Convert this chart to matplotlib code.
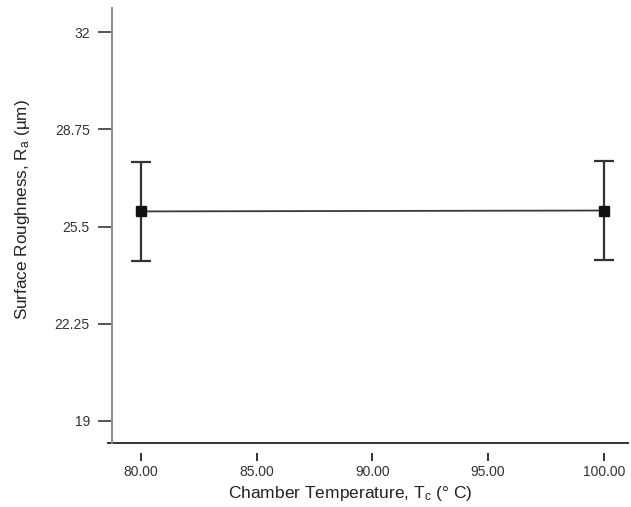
import numpy as np
import matplotlib
matplotlib.use("Agg")
import matplotlib.pyplot as plt

plt.rcParams['font.family'] = ['Liberation Sans', 'DejaVu Sans']
plt.rcParams['mathtext.fontset'] = 'custom'
plt.rcParams['mathtext.rm'] = 'Liberation Sans'
plt.rcParams['mathtext.it'] = 'Liberation Sans'

# data
temps = [80.0, 100.0]
roughness = [26.01, 26.04]
roughness_err = [1.66, 1.66]

xticks = [80, 85, 90, 95, 100]
xtick_labels = ["80.00", "85.00", "90.00", "95.00", "100.00"]
yticks = [19, 22.25, 25.5, 28.75, 32]
ytick_labels = ["19", "22.25", "25.5", "28.75", "32"]

fig = plt.figure(figsize=(6.31, 5.07), dpi=100)
ax = fig.add_axes([0.1775, 0.126, 0.8175, 0.858])

ax.plot(temps, roughness, color="#3a3a3a", lw=1.3, zorder=2)
ax.errorbar(temps, roughness, yerr=roughness_err, fmt="s", color="#111111",
            ecolor="#333333", elinewidth=1.6, capsize=7.5, capthick=1.6,
            markersize=6.5, zorder=3)

ax.set_xlim(78.75, 101.04)
ax.set_ylim(18.26, 32.81)

ax.set_xticks(xticks)
ax.set_xticklabels(xtick_labels)
ax.set_yticks(yticks)
ax.set_yticklabels(ytick_labels)

for s in ["top", "right"]:
    ax.spines[s].set_visible(False)
ax.spines["left"].set_color("#8a8a8a")
ax.spines["left"].set_linewidth(1.4)
# x ticks sit a little below the axis line
ax.spines["bottom"].set_position(("outward", 7))
ax.spines["bottom"].set_visible(False)
ax.plot([-0.008, 1], [0, 0], transform=ax.transAxes, color="#333333",
        lw=1.4, clip_on=False)

ax.tick_params(axis="y", direction="out", length=10, width=1.4,
               color="#555555", labelsize=10, labelcolor="#333333", pad=6)
ax.tick_params(axis="x", direction="out", length=6, width=1.4,
               color="#333333", labelsize=10, labelcolor="#333333", pad=3)

ax.set_xlabel("Chamber Temperature, T$_c$ (° C)", fontsize=12.5,
              color="#222222", va="center")
ax.set_ylabel("Surface Roughness, R$_a$ (µm)", fontsize=12.3,
              color="#222222", va="center")
ax.xaxis.set_label_coords(0.461, -0.115)
ax.yaxis.set_label_coords(-0.174, 0.536)

fig.savefig("out.png", dpi=100)
